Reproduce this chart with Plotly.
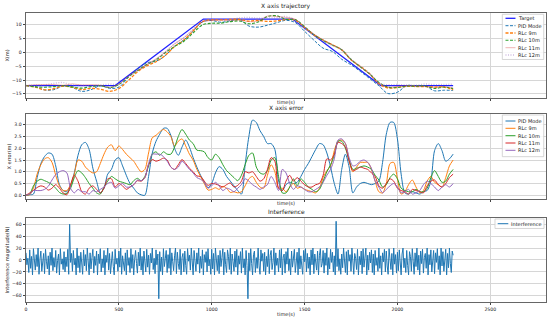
import plotly.graph_objects as go

# ---------------- data ----------------
t_traj = list(range(0, 2301, 50))
target_t = [0, 480, 955, 1435, 1910, 2300]
target_x = [-12, -12, 12, 12, -12, -12]
pid_x = [-12, -12.4, -13.6, -13.5, -12.2, -12.7, -14.1, -13.5, -12.1, -13.0,
         -12.6, -9.1, -6.0, -3.8, -3.2, -1.2, 2.2, 4.5, 7.6, 11.0,
         11.5, 10.85, 11.4, 11.9, 9.5, 9.1, 9.8, 10.7, 11.55, 10.75,
         7.6, 4.4, 1.5, 0.3, -2.5, -4.5, -6.9, -9.45, -12.1, -14.9,
         -14.4, -12.05, -12.1, -12.2, -13.9, -13.7, -13.75]
rlc9_x = [-12, -12.6, -13.55, -13.15, -12.2, -12.65, -13.45, -13.0, -13.35, -14.1,
          -13.1, -10.2, -7.1, -4.9, -3.4, -1.1, 2.1, 4.4, 7.7, 11.1,
          11.75, 11.7, 11.9, 11.9, 11.3, 11.55, 11.15, 11.35, 11.85, 11.64,
          8.97, 6.31, 4.4, 2.7, 0.95, -2.7, -5.05, -7.7, -11.35, -12.9,
          -12.7, -12.3, -12.35, -12.4, -12.55, -12.55, -13.5]
rlc10_x = [-12, -12.5, -12.6, -12.4, -12.05, -12.5, -12.95, -12.4, -12.05, -12.7,
           -11.6, -8.95, -6.65, -4.4, -2.75, -0.15, 2.1, 4.0, 7.0, 9.9,
           10.5, 10.55, 11.1, 11.3, 10.3, 10.95, 12.9, 13.2, 11.9, 11.8,
           9.25, 6.4, 4.25, 2.6, 0.9, -2.6, -5.25, -7.8, -10.85, -12.6,
           -12.7, -12.2, -12.25, -12.2, -13.05, -12.55, -13.1]
rlc11_x = [-12, -11.75, -11.65, -11.65, -11.9, -11.4, -11.85, -11.7, -11.9, -12.7,
           -11.5, -8.75, -6.55, -4.4, -2.35, 0.1, 3.05, 5.25, 8.2, 11.0,
           11.5, 11.65, 11.5, 11.6, 11.1, 11.3, 13.1, 12.9, 12.6, 11.94,
           9.17, 6.6, 4.5, 2.75, 0.8, -2.65, -5.25, -7.9, -11.1, -12.6,
           -12.3, -12.1, -12.2, -12.25, -12.65, -12.4, -12.9]
rlc12_x = [-12, -11.8, -11.75, -11.2, -10.95, -11.8, -11.85, -12.1, -11.75, -11.5,
           -11.4, -8.8, -6.6, -4.45, -2.6, 0.1, 3.1, 5.3, 8.3, 11.1,
           11.6, 11.7, 11.75, 12.4, 12.6, 12.3, 12.45, 12.45, 12.95, 11.54,
           8.97, 6.4, 4.2, 2.45, 1.0, -2.45, -5.0, -7.65, -11.15, -11.7,
           -11.65, -11.8, -11.9, -11.45, -11.65, -11.6, -11.5]

t_err = list(range(0, 2301, 20))
err_pid = [0, 0.02, 0.05, 0.75, 1.35, 1.65, 1.8, 1.75, 1.25, 0.45,
           0.2, 0.15, 0.4, 0.95, 1.7, 2.15, 2.25, 1.95, 1.15, 0.6,
           0.1, 0.3, 0.9, 1.1, 1.5, 1.6, 1.25, 0.85, 0.5, 0.3,
           0.1, 0.02, 0.0, 0.8, 1.8, 2.3, 2.6, 2.85, 2.85, 2.55,
           2.0, 1.7, 2.05, 2.35, 2.05, 1.6, 1.2, 0.85, 0.55, 0.32,
           0.5, 0.95, 1.22, 1.1, 0.8, 0.6, 0.4, 0.2, 0.05, 1.3,
           2.5, 3.2, 3.1, 2.75, 2.5, 2.2, 2.2, 1.95, 0.6, 0.2,
           0.45, 0.55, 0.5, 0.55, 0.8, 1.1, 1.35, 1.65, 1.95, 2.2,
           2.15, 1.8, 1.2, 0.5, 0.05, 1.1, 1.75, 1.2, 0.1, 0.35,
           0.5, 0.55, 0.5, 0.45, 0.5, 0.6, 1.4, 2.6, 3.1, 3.1,
           2.4, 0.9, 0.1, 0.05, 0.15, 0.1, 0.05, 0.15, 0.2, 0.6,
           1.9, 2.2, 1.9, 1.45, 1.55, 1.75]
err_9m = [0, 0.02, 0.3, 0.9, 1.3, 1.55, 1.6, 1.4, 0.85, 0.4,
          0.2, 0.2, 0.45, 0.9, 1.5, 1.45, 1.2, 1.05, 0.95, 1.0,
          1.35, 1.75, 2.05, 2.15, 1.9, 2.1, 1.95, 1.75, 1.6, 1.45,
          1.2, 1.0, 1.1, 1.8, 2.45, 2.55, 2.7, 2.8, 2.7, 2.5,
          2.1, 2.3, 2.4, 2.1, 1.75, 1.5, 1.1, 0.8, 0.5, 0.22,
          0.25, 0.32, 0.25, 0.38, 0.3, 0.12, 0.15, 0.1, 0.15, 0.4,
          0.7, 0.8, 0.55, 0.35, 0.3, 0.85, 1.3, 1.0, 0.3, 0.3,
          0.15, 0.35, 0.5, 0.3, 0.35, 0.25, 0.2, 0.15, 0.1, 0.3,
          0.75, 1.05, 1.25, 1.9, 2.3, 2.35, 2.2, 1.5, 1.0, 1.2,
          1.4, 1.4, 1.4, 1.1, 0.6, 0.15, 0.1, 0.5, 1.35, 1.4,
          0.7, 0.05, 0.15, 0.45, 0.65, 0.35, 0.1, 0.2, 0.6, 0.8,
          0.55, 0.45, 0.35, 0.75, 1.25, 1.5]
err_10m = [0, 0.05, 0.4, 0.6, 0.68, 0.62, 0.55, 0.45, 0.3, 0.12,
           0.05, 0.08, 0.3, 0.75, 1.05, 0.95, 0.75, 0.5, 0.3, 0.1,
           0.05, 0.35, 0.6, 0.8, 0.7, 0.6, 0.55, 0.5, 0.45, 0.62,
           0.72, 0.62, 0.8, 1.25, 1.75, 1.85, 1.7, 1.85, 1.75, 1.75,
           2.05, 2.5, 2.8, 2.6, 2.35, 2.2, 1.92, 1.9, 1.85, 1.6,
           1.5, 1.75, 1.6, 1.3, 1.05, 0.9, 0.75, 0.62, 0.85, 1.3,
           1.7, 1.8, 1.2, 0.95, 0.9, 1.05, 1.5, 1.6, 0.8, 0.1,
           0.1, 0.35, 0.7, 0.4, 0.7, 0.55, 0.35, 0.25, 0.15, 0.25,
           0.6, 1.0, 1.3, 1.7, 2.3, 2.3, 2.0, 1.5, 1.1, 1.15,
           1.2, 1.25, 1.2, 1.1, 0.85, 0.65, 0.35, 0.45, 0.75, 0.9,
           0.7, 0.3, 0.2, 0.15, 0.15, 0.25, 0.15, 0.15, 0.3, 0.75,
           1.05, 0.8, 0.55, 0.6, 0.9, 1.1]
err_11m = [0, 0.1, 0.2, 0.33, 0.4, 0.35, 0.22, 0.3, 0.45, 0.3,
           0.1, 0.02, 0.45, 0.85, 0.6, 0.15, 0.05, 0.3, 0.4, 0.25,
           0.1, 0.3, 0.7, 0.7, 0.35, 0.5, 0.4, 0.25, 0.35, 0.45,
           0.62, 0.6, 0.75, 1.3, 1.52, 1.45, 1.5, 1.58, 1.5, 1.2,
           1.1, 1.3, 1.52, 1.35, 1.15, 1.0, 0.82, 0.8, 0.6, 0.42,
           0.5, 0.48, 0.42, 0.35, 0.45, 0.52, 0.35, 0.42, 0.6, 1.0,
           0.95, 1.0, 0.8, 0.6, 0.7, 1.1, 1.6, 1.45, 0.3, 0.2,
           0.6, 0.85, 0.6, 0.75, 0.6, 0.45, 0.35, 0.35, 0.45, 0.5,
           0.85, 1.55, 1.5, 1.75, 2.25, 2.2, 2.05, 1.45, 1.05, 1.1,
           1.2, 1.15, 1.1, 0.95, 0.8, 0.4, 0.3, 0.5, 0.7, 0.6,
           0.3, 0.2, 0.15, 0.05, 0.25, 0.2, 0.15, 0.1, 0.4, 0.6,
           0.65, 0.45, 0.35, 0.5, 0.75, 0.9]
err_12m = [0, 0.05, 0.2, 0.2, 0.2, 0.25, 0.38, 0.65, 0.88, 1.0,
           1.05, 0.95, 0.3, 0.1, 0.25, 0.15, 0.15, 0.05, 0.2, 0.15,
           0.25, 0.35, 0.5, 0.55, 0.3, 0.4, 0.5, 0.35, 0.35, 0.45,
           0.65, 0.62, 0.75, 1.35, 1.75, 1.75, 1.75, 1.65, 1.45, 1.2,
           1.1, 1.2, 1.45, 1.3, 1.1, 0.95, 0.75, 0.68, 0.55, 0.3,
           0.4, 0.55, 0.4, 0.2, 0.3, 0.25, 0.15, 0.3, 0.45, 0.7,
           0.6, 0.45, 0.35, 0.25, 0.35, 0.45, 0.8, 0.55, 0.2, 1.1,
           0.95, 0.5, 0.25, 0.4, 0.35, 0.25, 0.15, 0.15, 0.25, 0.35,
           0.55, 0.85, 1.1, 1.55, 2.35, 2.4, 2.2, 1.6, 1.25, 1.3,
           1.45, 1.5, 1.4, 1.15, 0.6, 0.35, 0.1, 0.25, 0.4, 0.5,
           0.35, 0.1, 0.15, 0.25, 0.05, 0.1, 0.2, 0.45, 0.6, 0.5,
           0.35, 0.2, 0.35, 0.45, 0.35, 0.5]

t_noise = list(range(0, 2301, 5))
interference = [
    12, -8, 3, -21, 17, -14, 6, -25, 19, -3, -17, 9, -11, 20, -24, 1, 15, -19, -6, 11,
    -23, 18, -2, -15, 7, -25, 13, -9, 20, -18, 4, -12, 16, -22, -1, 10, -25, 19, -7, 2,
    -16, 14, -20, 5, -11, 18, -24, 60, -4, 11, -19, 16, -8, 3, -25, 20, -13, 7, -21, 13,
    -5, -24, 17, -10, 9, -18, 20, -2, -25, 12, -15, 4, 18, -22, 6, -9, 15, -25, 10, -6,
    19, -20, 2, -13, 16, -25, 8, -4, 20, -17, 11, -23, 5, 14, -11, -25, 18, -7, 3, -19,
    15, -12, 20, -24, 7, -3, -18, 12, -25, 17, -9, 4, -21, 19, -14, 9, -25, 1, 16, -6,
    -22, 13, -10, 20, -17, 6, -25, 15, -1, -20, 18, -12, 8, -24, 11, -5, 20, -16, 3, -23,
    17, -8, 10, -65, 14, -19, 5, -25, 19, -11, 2, 16, -21, 9, -14, 20, -25, 12, -3, -18,
    7, 20, -23, 13, -6, -16, 18, -25, 4, 11, -20, 15, -9, -24, 19, -2, 8, -17, 20, -12,
    -25, 16, 3, -19, 12, -7, 20, -22, 6, -14, 17, -25, 9, -4, 14, -20, 19, -10, 1, -24,
    18, -15, 11, -25, 20, -5, -18, 8, -23, 16, -11, 4, 19, -25, 13, -8, -21, 17, 6, -16,
    20, -24, 10, -3, -19, 15, -12, 18, -25, 7, -7, 14, -22, 20, -13, 2, -25, 16, -9, -65,
    12, -18, 19, -6, -25, 9, 15, -21, 4, -14, 20, -10, -24, 17, -2, 11, -19, 13, -25, 6,
    -11, 18, -23, 8, 16, -16, -4, 20, -25, 12, -9, 3, -20, 17, -13, 19, -25, 5, 10, -22,
    14, -7, 20, -18, 2, -25, 15, -12, 9, 18, -21, -5, 13, -25, 20, -15, 7, -10, -24, 16,
    -3, 19, -20, 11, -14, 5, -25, 17, -8, 20, -23, 10, -1, -17, 15, -25, 8, 19, -12, -6,
    16, -22, 12, -9, 20, -25, 4, -15, 18, -4, 13, -20, 7, -25, 65, -11, 19, -18, 2, -24,
    10, -13, 20, -6, -21, 14, -25, 17, -2, 9, -19, 20, -10, -24, 11, 3, -16, 18, -25, 6,
    -8, 15, -23, 19, -12, 1, 20, -25, 8, -17, 13, -5, 17, -21, 10, -25, 16, -9, 4, -19,
    20, -14, 7, -25, 12, -3, 18, -20, 15, -10, -24, 19, 2, -16, 11, -25, 20, -7, 9, -22,
    13, -18, 17, -5, -25, 10, 20, -13, 3, -21, 16, -9, -25, 14, 6, -19, 19, -2, -24, 12,
    -11, 20, -17, 8, -25, 15, -6, 18, -22, 4, 11, -14, 20, -25, 9, -8, 17, -20, 1, 16,
    -23, 12, -4, 19, -16, 7, -25, 20, -10, 14, -19, 3, 18, -25, 11, -13, 20, -6, -21, 15,
    8]

x_ticks = [0, 500, 1000, 1500, 2000, 2500]
traj_ticks = [-15, -10, -5, 0, 5, 10]
err_ticks = [0.0, 0.5, 1.0, 1.5, 2.0, 2.5, 3.0]
intf_ticks = [-60, -40, -20, 0, 20, 40, 60]

# ---------------- styles ----------------
FONT = "DejaVu Sans"
C_BLUE, C_OR, C_GR, C_RD, C_PU = "#1f77b4", "#ff7f0e", "#2ca02c", "#d62728", "#9467bd"

traj_series = [
    ("Target", target_t, target_x, dict(color="#2020ff", width=1.3)),
    ("PID Mode", t_traj, pid_x, dict(color=C_BLUE, width=1, dash="3px,1.5px")),
    ("RLc 9m", t_traj, rlc9_x, dict(color=C_OR, width=1.3, dash="3px,1.5px")),
    ("RLc 10m", t_traj, rlc10_x, dict(color=C_GR, width=1.1, dash="3px,1.5px")),
    ("RLc 11m", t_traj, rlc11_x, dict(color="rgba(214,39,40,0.35)", width=1)),
    ("RLc 12m", t_traj, rlc12_x, dict(color="rgba(148,103,189,0.45)", width=1.4, dash="1px,1.5px")),
]
err_series = [
    ("PID Mode", err_pid, C_BLUE), ("RLc 9m", err_9m, C_OR), ("RLc 10m", err_10m, C_GR),
    ("RLc 11m", err_11m, C_RD), ("RLc 12m", err_12m, C_PU),
]

fig = go.Figure()
for name, tx, ty, ln in traj_series:
    fig.add_trace(go.Scatter(x=tx, y=ty, name=name, mode="lines",
                             line=dict(shape="spline" if name != "Target" else "linear", **ln),
                             xaxis="x", yaxis="y", showlegend=False))
for name, ey, col in err_series:
    fig.add_trace(go.Scatter(x=t_err, y=ey, name=name, mode="lines",
                             line=dict(color=col, width=1, shape="spline", smoothing=0.8),
                             xaxis="x2", yaxis="y2", showlegend=False))
fig.add_trace(go.Scatter(x=t_noise, y=interference, name="Interference", mode="lines",
                         line=dict(color=C_BLUE, width=1.0), xaxis="x3", yaxis="y3", showlegend=False))

tickfont = dict(family=FONT, size=4.6, color="#222")
labfont = dict(family=FONT, size=5, color="#222")
common_x = dict(range=[0, 2800], tickvals=x_ticks, showgrid=True, gridcolor="#d6d6d6", gridwidth=0.8,
                ticks="outside", ticklen=2.5, tickwidth=0.7, tickcolor="#444", showline=True, mirror=True,
                linecolor="#666", linewidth=0.8, zeroline=False, tickfont=tickfont, automargin=False)
common_y = dict(showgrid=True, gridcolor="#d6d6d6", gridwidth=0.8, ticks="outside", ticklen=2.5,
                tickwidth=0.7, tickcolor="#444", showline=True, mirror=True, linecolor="#666",
                linewidth=0.8, zeroline=False, tickfont=tickfont, automargin=False)

fig.update_layout(
    width=550, height=322, margin=dict(l=26, r=4, t=13, b=20),
    paper_bgcolor="white", plot_bgcolor="white", showlegend=False,
    font=dict(family=FONT, size=5, color="#222"),
    xaxis=dict(common_x, anchor="y", showticklabels=False,
               title=dict(text="time(s)", font=labfont, standoff=0)),
    xaxis2=dict(common_x, anchor="y2", showticklabels=False,
                title=dict(text="time(s)", font=labfont, standoff=0)),
    xaxis3=dict(common_x, anchor="y3", showticklabels=True,
                title=dict(text="time(s)", font=labfont, standoff=1)),
    yaxis=dict(common_y, domain=[0.7059, 1.0], anchor="x", range=[-16.5, 14.2], tickvals=traj_ticks,
               title=dict(text="X(m)", font=labfont, standoff=2)),
    yaxis2=dict(common_y, domain=[0.3564, 0.6505], anchor="x2", range=[-0.16, 3.46], tickvals=err_ticks,
                tickformat=".1f", title=dict(text="X error(m)", font=labfont, standoff=2)),
    yaxis3=dict(common_y, domain=[0.0, 0.2907], anchor="x3", range=[-70.5, 70.5], tickvals=intf_ticks,
                title=dict(text="Interference magnitude(N)", font=labfont, standoff=2)),
)

# subplot titles
for ax, title in [("", "X axis trajectory"), ("2", "X axis error"), ("3", "Interference")]:
    fig.add_annotation(text=title, xref=f"x{ax} domain", yref=f"y{ax} domain", x=0.5, y=1.0,
                       xanchor="center", yanchor="bottom", yshift=1, showarrow=False,
                       font=dict(family=FONT, size=6, color="#222"))

# custom compact legends (matplotlib style)
def add_legend(ax, box, ys, x0, x1, xt, entries):
    xr, yr = f"x{ax} domain", f"y{ax} domain"
    fig.add_shape(type="rect", xref=xr, yref=yr, x0=box[0], x1=box[1], y0=box[2], y1=box[3],
                  line=dict(color="#cccccc", width=0.8), fillcolor="rgba(255,255,255,0.85)", layer="above")
    for yy, (name, ln) in zip(ys, entries):
        fig.add_shape(type="line", xref=xr, yref=yr, x0=x0, x1=x1, y0=yy, y1=yy, line=ln, layer="above")
        fig.add_annotation(text=name, xref=xr, yref=yr, x=xt, y=yy, xanchor="left", yanchor="middle",
                           showarrow=False, font=dict(family=FONT, size=5, color="#222"), borderpad=0)

add_legend("", [0.916, 0.9956, 0.453, 0.985], [0.9376, 0.8506, 0.7647, 0.6788, 0.5918, 0.5059],
           0.9221, 0.9413, 0.944, [(n, ln) for n, _, _, ln in traj_series])
add_legend("2", [0.916, 0.9956, 0.498, 0.988], [0.9176, 0.8318, 0.7447, 0.6588, 0.5729],
           0.9221, 0.9413, 0.944, [(n, dict(color=c, width=1)) for n, _, c in err_series])
add_legend("3", [0.9019, 0.9962, 0.875, 0.988], [0.932],
           0.9071, 0.9275, 0.930, [("Interference", dict(color=C_BLUE, width=1))])

fig.write_html("out.html", config={"displayModeBar": False},
               post_script="document.body.style.margin='0';document.body.style.padding='0';")
